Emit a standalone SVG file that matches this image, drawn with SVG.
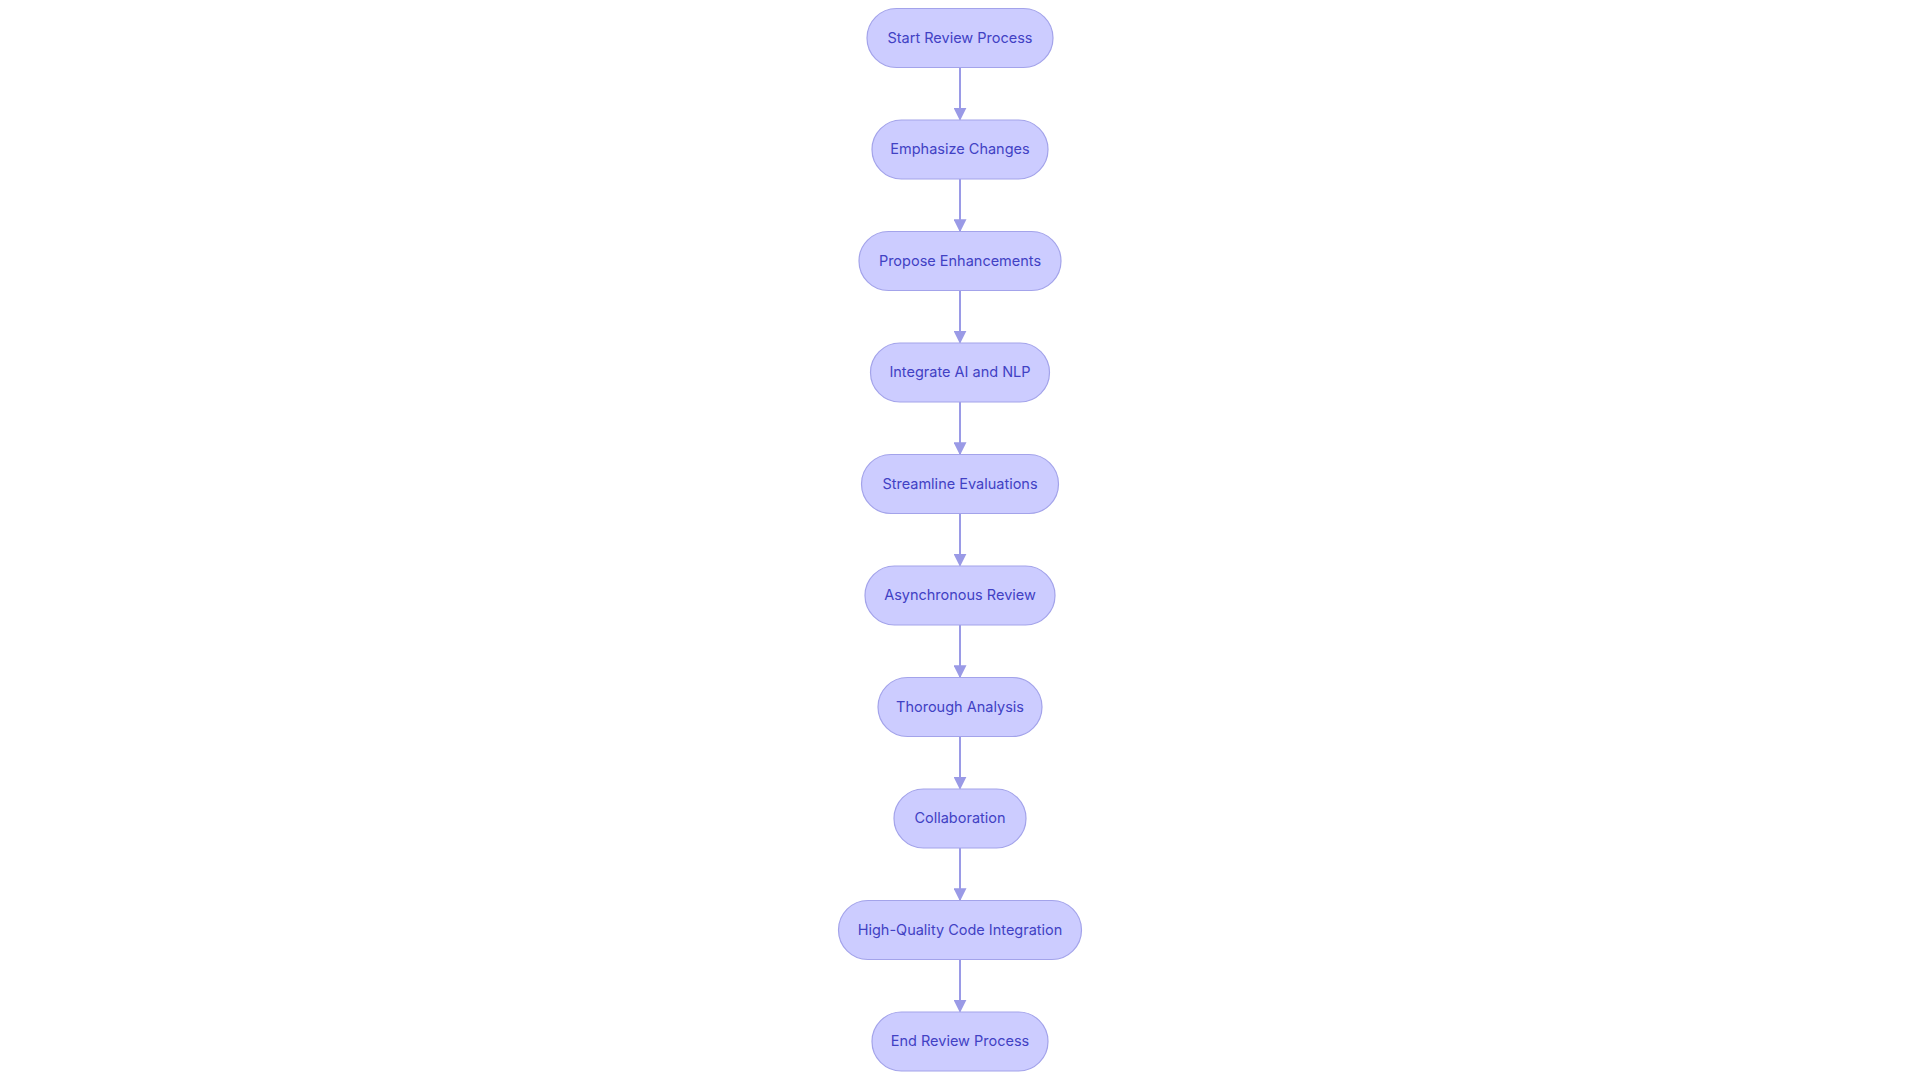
<svg xmlns="http://www.w3.org/2000/svg" width="1920" height="1080" viewBox="0 0 1920 1080">
<style>
.node rect{fill:#ccccff;stroke:#a3a3ea;stroke-width:1.2}
.node text{font-family:Inter,"Noto Sans",sans-serif;font-size:14.5px;font-weight:400;fill:#4141c4;text-anchor:middle;dominant-baseline:central}
.edge{stroke:#9a9ae6;stroke-width:2;fill:none;marker-end:url(#arr)}
</style>
<defs>
<marker id="arr" viewBox="0 0 10 10" refX="9" refY="5" markerWidth="13" markerHeight="13" markerUnits="userSpaceOnUse" orient="auto"><path d="M0,0 L10,5 L0,10 z" fill="#9a9ae6"/></marker>
</defs>
<rect width="1920" height="1080" fill="#ffffff"/>
<g id="connectors">
<path class="edge" d="M960,67.5 V119.5"/>
<path class="edge" d="M960,179 V231"/>
<path class="edge" d="M960,290.5 V342.5"/>
<path class="edge" d="M960,402 V454"/>
<path class="edge" d="M960,513.5 V565.5"/>
<path class="edge" d="M960,625 V677"/>
<path class="edge" d="M960,736.5 V788.5"/>
<path class="edge" d="M960,848 V900"/>
<path class="edge" d="M960,959.5 V1011.5"/>
</g>
<g id="n1" class="node"><rect x="867" y="8.5" width="186" height="59" rx="29.5"/><text x="960" y="37">Start Review Process</text></g>
<g id="n2" class="node"><rect x="872" y="120" width="176" height="59" rx="29.5"/><text x="960" y="148.5">Emphasize Changes</text></g>
<g id="n3" class="node"><rect x="859" y="231.5" width="202" height="59" rx="29.5"/><text x="960" y="260">Propose Enhancements</text></g>
<g id="n4" class="node"><rect x="870.5" y="343" width="179" height="59" rx="29.5"/><text x="960" y="371.5">Integrate AI and NLP</text></g>
<g id="n5" class="node"><rect x="861.5" y="454.5" width="197" height="59" rx="29.5"/><text x="960" y="483">Streamline Evaluations</text></g>
<g id="n6" class="node"><rect x="865" y="566" width="190" height="59" rx="29.5"/><text x="960" y="594.5">Asynchronous Review</text></g>
<g id="n7" class="node"><rect x="878" y="677.5" width="164" height="59" rx="29.5"/><text x="960" y="706">Thorough Analysis</text></g>
<g id="n8" class="node"><rect x="894" y="789" width="132" height="59" rx="29.5"/><text x="960" y="817.5">Collaboration</text></g>
<g id="n9" class="node"><rect x="838.5" y="900.5" width="243" height="59" rx="29.5"/><text x="960" y="929">High-Quality Code Integration</text></g>
<g id="n10" class="node"><rect x="872" y="1012" width="176" height="59" rx="29.5"/><text x="960" y="1040.5">End Review Process</text></g>
</svg>
